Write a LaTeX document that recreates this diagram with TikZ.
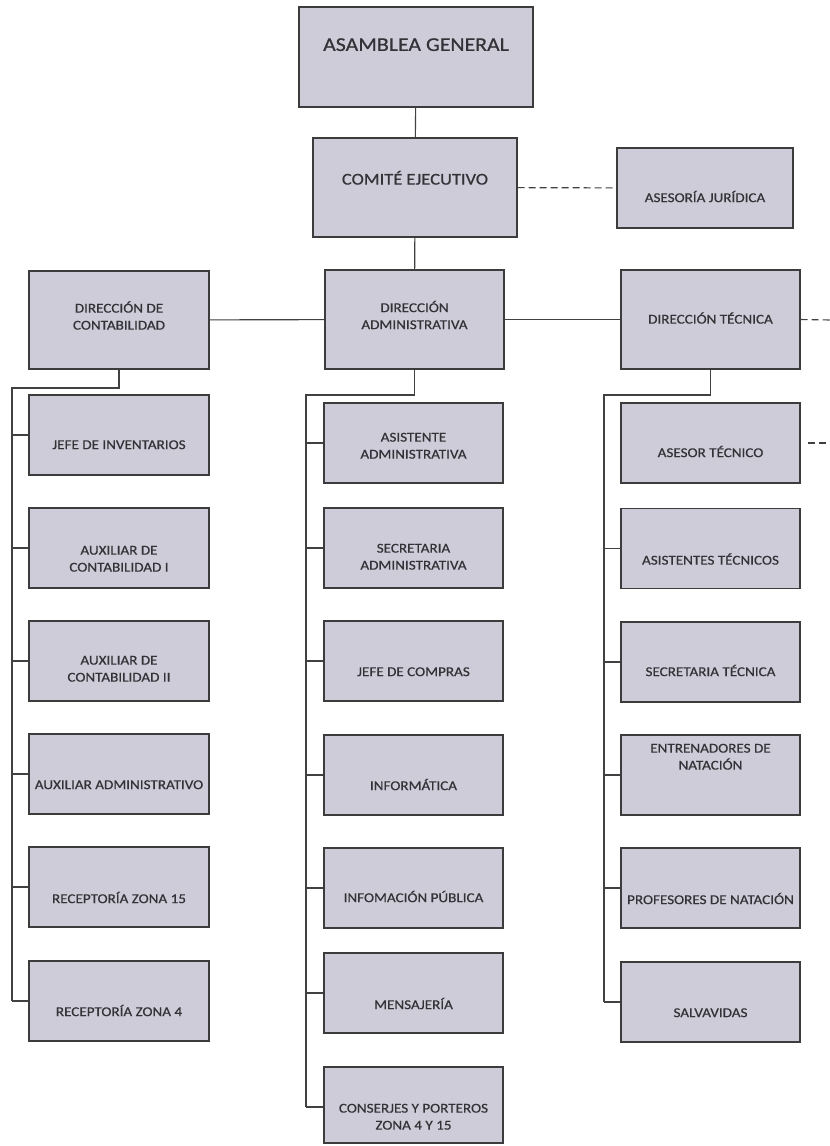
\documentclass[tikz,border=0pt]{standalone}
\usepackage{fontspec}
\newfontfamily\boxfont{Carlito}[FakeStretch=1.12,FakeBold=0.6]
\definecolor{boxfill}{RGB}{206,204,216}
\definecolor{boxline}{RGB}{60,60,60}
\definecolor{txt}{RGB}{50,50,55}
\definecolor{conline}{RGB}{65,65,65}
\newcommand\tx[2]{\raisebox{\dimexpr #1pt-0.57em+0.2\baselineskip\relax}[0pt][0pt]{\begin{tabular}{@{}c@{}}#2\end{tabular}}}
\tikzset{
  orgbox/.style={draw=boxline, line width=1.4pt, fill=boxfill, text=txt,
    font=\boxfont\fontsize{13.5}{17}\selectfont, inner sep=0pt,
    minimum width=180pt, minimum height=80pt},
  conn/.style={draw=conline, line width=1.1pt},
  dconn/.style={conn, dash pattern=on 7pt off 4pt},
}
\begin{document}
\begin{tikzpicture}[x=1pt,y=-1pt]
\fill[white] (0,0) rectangle (830,1146);
\useasboundingbox (0,0) rectangle (830,1146);

% top
\node[orgbox, minimum width=234pt, minimum height=100pt, font=\boxfont\fontsize{19.5}{24}\selectfont] (ag) at (416,57) {\tx{12}{ASAMBLEA GENERAL}};
\node[orgbox, minimum width=204pt, minimum height=99pt, font=\boxfont\fontsize{16.5}{20}\selectfont] (ce) at (415,187.5) {\tx{8}{COMITÉ EJECUTIVO}};
\node[orgbox, minimum width=176pt] (aj) at (705,188) {\tx{-10}{ASESORÍA JURÍDICA}};

% directions
\node[orgbox, minimum height=98pt] (dc) at (119,320) {\tx{3}{DIRECCIÓN DE\\CONTABILIDAD}};
\node[orgbox, minimum width=179pt, minimum height=99pt] (da) at (414.5,319.5) {\tx{3}{DIRECCIÓN\\ADMINISTRATIVA}};
\node[orgbox, minimum width=179pt, minimum height=99pt] (dt) at (710.5,319.5) {\tx{0}{DIRECCIÓN TÉCNICA}};

% left column
\node[orgbox] (l1) at (119,435) {\tx{-10}{JEFE DE INVENTARIOS}};
\node[orgbox] (l2) at (119,548) {\tx{-11}{AUXILIAR DE\\CONTABILIDAD I}};
\node[orgbox] (l3) at (119,661) {\tx{-8}{AUXILIAR DE\\CONTABILIDAD II}};
\node[orgbox] (l4) at (119,774) {\tx{-11}{AUXILIAR ADMINISTRATIVO}};
\node[orgbox] (l5) at (119,887) {\tx{-12}{RECEPTORÍA ZONA 15}};
\node[orgbox] (l6) at (119,1001) {\tx{-11}{RECEPTORÍA ZONA 4}};

% middle column
\node[orgbox, minimum width=179pt] (m1) at (413.5,443) {\tx{-3}{ASISTENTE\\ADMINISTRATIVA}};
\node[orgbox, minimum width=179pt] (m2) at (413.5,548) {\tx{-9}{SECRETARIA\\ADMINISTRATIVA}};
\node[orgbox, minimum width=179pt] (m3) at (413.5,661) {\tx{-11}{JEFE DE COMPRAS}};
\node[orgbox, minimum width=179pt] (m4) at (413.5,775) {\tx{-11}{INFORMÁTICA}};
\node[orgbox, minimum width=179pt] (m5) at (413.5,888) {\tx{-10}{INFOMACIÓN PÚBLICA}};
\node[orgbox, minimum width=179pt] (m6) at (413.5,993) {\tx{-12}{MENSAJERÍA}};
\node[orgbox, minimum width=179pt, minimum height=76pt] (m7) at (413.5,1105) {\tx{-12}{CONSERJES Y PORTEROS\\ZONA 4 Y 15}};

% right column
\node[orgbox, minimum width=179pt] (r1) at (710.5,443) {\tx{-10}{ASESOR TÉCNICO}};
\node[orgbox, minimum width=179pt] (r2) at (710.5,548.5) {\tx{-12}{ASISTENTES TÉCNICOS}};
\node[orgbox, minimum width=179pt] (r3) at (710.5,662) {\tx{-10}{SECRETARIA TÉCNICA}};
\node[orgbox, minimum width=179pt] (r4) at (710.5,775) {\tx{18}{ENTRENADORES DE\\NATACIÓN}};
\node[orgbox, minimum width=179pt] (r5) at (710.5,888) {\tx{-12}{PROFESORES DE NATACIÓN}};
\node[orgbox, minimum width=179pt] (r6) at (710.5,1002) {\tx{-11}{SALVAVIDAS}};

% bus coordinates
\coordinate (lbt) at (12,388);
\coordinate (lbb) at (12,1001);
\coordinate (mbt) at (306,395);
\coordinate (mbb) at (306,1107);
\coordinate (rbt) at (604,395);
\coordinate (rbb) at (604,1002);
\coordinate (dtend) at (830,320);
\coordinate (r1a) at (808,443);
\coordinate (r1b) at (830,443);

% connectors top
\draw[conn] (ag) -- (ce);
\draw[conn] (ce) -- (da);
\draw[dconn] (ce) -- (aj);
\draw[conn] (dc) -- (da);
\draw[conn] (da) -- (dt);
\draw[dconn] (dt.east) -- (dtend);
\draw[dconn] (r1a) -- (r1b);

% left bus
\draw[conn] (dc.south) |- (lbt) -- (lbb);
\foreach \n in {l1,l2,l3,l4,l5,l6}{\draw[conn] (lbt |- \n.west) -- (\n.west);}
% middle bus
\draw[conn] (da.south) |- (mbt) -- (mbb);
\foreach \n in {m1,m2,m3,m4,m5,m6}{\draw[conn] (mbt |- \n.west) -- (\n.west);}
\draw[conn] (mbb) -- (mbb -| m7.west);
% right bus
\draw[conn] (dt.south) |- (rbt) -- (rbb);
\foreach \n in {r2,r3,r4,r5,r6}{\draw[conn] (rbt |- \n.west) -- (\n.west);}
\end{tikzpicture}
\end{document}
